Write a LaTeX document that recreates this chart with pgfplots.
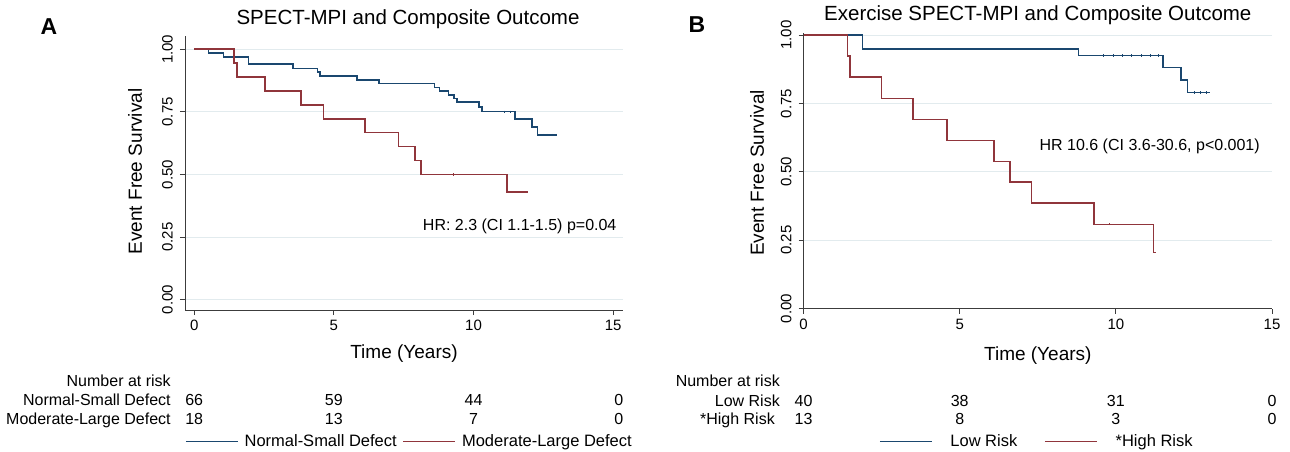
\documentclass[border=0pt]{standalone}
\usepackage{fontspec}
\setmainfont{Liberation Sans}
\usepackage{pgfplots}
\pgfplotsset{compat=1.18}
\definecolor{navyS}{RGB}{26,71,111}
\definecolor{maroonS}{RGB}{144,53,59}
\definecolor{gridS}{RGB}{226,235,238}
\definecolor{axisS}{RGB}{60,60,60}
\newcommand{\fs}[1]{\fontsize{#1bp}{#1bp}\selectfont}
\tikzset{tab/.style={font=\fs{16}, text height=11.5bp, text depth=3bp, inner sep=0pt}}
\pgfplotsset{
  kmstyle/.style={
    scale only axis,
    axis x line=bottom, axis y line=left,
    axis line style={-, draw=axisS, line width=0.9bp},
    tick style={draw=axisS, line width=0.9bp},
    tick align=outside, major tick length=5bp,
    ytick={0,0.25,0.5,0.75,1}, yticklabels={0.00,0.25,0.50,0.75,1.00},
    xtick={0,5,10,15},
    ymajorgrids, grid style={draw=gridS, line width=1bp},
    yticklabel style={rotate=90, anchor=south, font=\fs{15}, inner ysep=7bp},
    xticklabel style={font=\fs{15}, yshift=-2bp},
    label style={font=\fs{19}},
    title style={font=\fs{20.5}},
    clip=false,
    /pgf/number format/assume math mode=true,
    legend style={draw=none, fill=none, legend columns=2, font=\fs{16.5}, anchor=center, inner sep=0pt},
    legend image code/.code={\draw[#1, line width=1.3bp] (0bp,0bp) -- (52bp,0bp);},
    km/.style={line width=1.6bp, const plot, mark=none},
    cens/.style={only marks, mark=|, mark size=1.1bp, line width=0.5bp, forget plot},
  }
}
\begin{document}
\begin{tikzpicture}
\useasboundingbox (0,0) rectangle (1290bp,452bp);
% ---------------- Panel A ----------------
\begin{axis}[kmstyle,
  at={(185bp,142bp)}, anchor=south west,
  width=438bp, height=274bp,
  xmin=-0.33, xmax=15.35, ymin=-0.041, ymax=1.053,
  title={SPECT-MPI and Composite Outcome},
  title style={at={(axis description cs:0.5,1)}, anchor=center, yshift=11bp, xshift=4bp},
  xlabel={Time (Years)}, ylabel={Event Free Survival},
  xlabel style={at={(axis description cs:0.5,0)}, anchor=center, yshift=-44bp},
  ylabel style={at={(axis description cs:0,0.5)}, anchor=center, yshift=50bp, xshift=1.5bp},
  legend style={at={(axis description cs:0.5126,-0.4807)},
    /tikz/every odd column/.append style={column sep=4bp},
    /tikz/every even column/.append style={column sep=4bp}},
]
\addplot[navyS, km] coordinates {
(0,1) (0.51,0.984) (1.05,0.969) (1.94,0.940) (3.53,0.924) (4.41,0.909) (4.51,0.894)
(5.82,0.878) (6.62,0.864) (8.60,0.848) (8.78,0.834) (9.11,0.818) (9.31,0.803) (9.40,0.789)
(10.20,0.769) (10.30,0.751) (11.49,0.722) (12.09,0.689) (12.29,0.658) (13.0,0.658)};
\addlegendentry{Normal-Small Defect}
\addplot[maroonS, km] coordinates {
(0,1) (1.43,0.944) (1.53,0.889) (2.54,0.833) (3.82,0.778) (4.63,0.722) (6.12,0.667)
(7.31,0.611) (7.91,0.556) (8.11,0.500) (11.19,0.429) (11.95,0.429)};
\addlegendentry{Moderate-Large Defect}
\addplot[navyS, cens] coordinates {
(9.55,0.789) (9.7,0.789) (9.85,0.789) (10.0,0.789)
(11.1,0.751) (11.3,0.751)
(11.65,0.722) (11.8,0.722) (11.95,0.722)
(12.5,0.658) (12.65,0.658) (12.8,0.658) (12.95,0.658)};
\addplot[maroonS, cens] coordinates {(9.26,0.5) (11.55,0.429) (11.75,0.429)};
\node[anchor=east, font=\fs{16}] at (axis cs:15.24,0.294) {HR: 2.3 (CI 1.1-1.5) p=0.04};
\node[tab, anchor=east] at (axis cs:-0.834,-0.3275) {Number at risk};
\node[tab, anchor=east] at (axis cs:-0.834,-0.4073) {Normal-Small Defect};
\node[tab, anchor=east] at (axis cs:-0.834,-0.4804) {Moderate-Large Defect};
\node[tab] at (axis cs:0,-0.4073) {66};
\node[tab] at (axis cs:5,-0.4073) {59};
\node[tab] at (axis cs:10,-0.4073) {44};
\node[tab] at (axis cs:15.2,-0.4073) {0};
\node[tab] at (axis cs:0,-0.4804) {18};
\node[tab] at (axis cs:5,-0.4804) {13};
\node[tab] at (axis cs:10,-0.4804) {7};
\node[tab] at (axis cs:15.2,-0.4804) {0};
\end{axis}
% ---------------- Panel B ----------------
\begin{axis}[kmstyle,
  at={(803.6bp,143.5bp)}, anchor=south west,
  width=468.4bp, height=275.5bp,
  xmin=0, xmax=15, ymin=0, ymax=1.008,
  title={Exercise SPECT-MPI and Composite Outcome},
  title style={at={(axis description cs:0.5,1)}, anchor=center, yshift=11.5bp},
  xlabel={Time (Years)}, ylabel={Event Free Survival},
  xlabel style={at={(axis description cs:0.5,0)}, anchor=center, yshift=-47.5bp},
  ylabel style={at={(axis description cs:0,0.5)}, anchor=center, yshift=46.6bp, xshift=-2.3bp},
  legend style={at={(axis description cs:0.498,-0.4835)},
    /tikz/every odd column/.append style={column sep=16bp},
    /tikz/every even column/.append style={column sep=25bp}},
]
\addplot[navyS, km] coordinates {
(0,1) (1.89,0.949) (8.80,0.926) (11.50,0.882) (12.08,0.835) (12.29,0.790) (13.0,0.790)};
\addlegendentry{Low Risk}
\addplot[maroonS, km] coordinates {
(0,1) (1.40,0.923) (1.49,0.846) (2.50,0.769) (3.51,0.692) (4.60,0.615) (6.10,0.538)
(6.61,0.462) (7.30,0.385) (9.30,0.308) (11.20,0.205) (11.30,0.205)};
\addlegendentry{*High Risk}
\addplot[navyS, cens] coordinates {
(9.6,0.926) (9.9,0.926) (10.2,0.926) (10.5,0.926) (10.8,0.926) (11.1,0.926) (11.35,0.926)
(12.5,0.790) (12.7,0.790) (12.9,0.790)};
\addplot[maroonS, cens] coordinates {(9.78,0.308)};
\node[anchor=east, font=\fs{16}] at (axis cs:14.72,0.594) {HR 10.6 (CI 3.6-30.6, p<0.001)};
\node[tab, anchor=east] at (axis cs:-0.756,-0.2686) {Number at risk};
\node[tab, anchor=east] at (axis cs:-0.756,-0.3417) {Low Risk};
\node[tab, anchor=east] at (axis cs:-0.916,-0.4087) {*High Risk};
\node[tab] at (axis cs:0,-0.3417) {40};
\node[tab] at (axis cs:5,-0.3417) {38};
\node[tab] at (axis cs:10,-0.3417) {31};
\node[tab] at (axis cs:15,-0.3417) {0};
\node[tab] at (axis cs:0,-0.4087) {13};
\node[tab] at (axis cs:5,-0.4087) {8};
\node[tab] at (axis cs:10,-0.4087) {3};
\node[tab] at (axis cs:15,-0.4087) {0};
\end{axis}
\node[font=\bfseries\fs{23}] at (49bp,425.3bp) {A};
\node[font=\bfseries\fs{23}] at (697bp,427bp) {B};
\end{tikzpicture}
\end{document}
